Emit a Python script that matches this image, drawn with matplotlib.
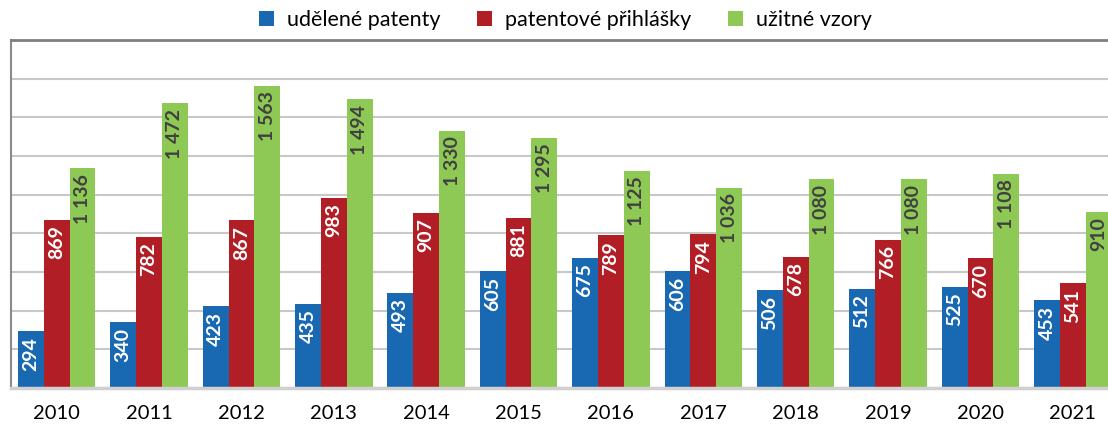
import matplotlib.pyplot as plt
import numpy as np

years = ['2010', '2011', '2012', '2013', '2014', '2015',
         '2016', '2017', '2018', '2019', '2020', '2021']
patenty = [294, 340, 423, 435, 493, 605, 675, 606, 506, 512, 525, 453]
prihlasky = [869, 782, 867, 983, 907, 881, 789, 794, 678, 766, 670, 541]
vzory = [1136, 1472, 1563, 1494, 1330, 1295, 1125, 1036, 1080, 1080, 1108, 910]
names = ['udělené patenty', 'patentové přihlášky', 'užitné vzory']

colors = ['#1868B2', '#B21E25', '#8FC955']
label_colors = ['white', 'white', '#404040']

plt.rcParams['font.family'] = ['Lato', 'DejaVu Sans']

W, H = 1108, 428
fig = plt.figure(figsize=(W / 100, H / 100), dpi=100)
# plot area runs a bit past the right edge of the picture
ax = fig.add_axes([10.5 / W, 40 / H, (1119 - 10.5) / W, (388 - 40) / H])

x = np.arange(len(years))
w = 0.28
series = [patenty, prihlasky, vzory]
for i, (vals, c, lc, nm) in enumerate(zip(series, colors, label_colors, names)):
    bars = ax.bar(x + (i - 1) * w, vals, width=w, color=c, label=nm,
                  edgecolor='none', zorder=2)
    for b, v in zip(bars, vals):
        txt = f'{v:,}'.replace(',', ' ')
        ax.annotate(txt, (b.get_x() + b.get_width() / 2, b.get_height()),
                    xytext=(0, -4), textcoords='offset points',
                    rotation=90, ha='center', va='top', fontsize=14,
                    fontweight='bold', color=lc, zorder=3)

ax.set_xlim(-0.5, len(years) - 0.5)
ax.set_ylim(0, 1800)
ax.set_yticks(np.arange(0, 1801, 200))
ax.yaxis.grid(True, color='#C8C8C8', linewidth=1.5, zorder=0)
ax.tick_params(axis='y', length=0, labelleft=False)
ax.set_xticks(x)
ax.set_xticklabels(years, fontsize=14.5)
ax.tick_params(axis='x', length=0, pad=12)

ax.spines['right'].set_visible(False)
ax.spines['left'].set_color('#8A8A8A')
ax.spines['left'].set_linewidth(1.5)
ax.spines['top'].set_color('#808080')
ax.spines['top'].set_linewidth(2)
ax.spines['bottom'].set_color('#D0D0D0')
ax.spines['bottom'].set_linewidth(2.5)

fig.legend(loc='center', bbox_to_anchor=(565 / W, 1 - 20 / H), ncol=3,
           frameon=False, fontsize=15.5, handlelength=0.7, handleheight=0.7,
           handletextpad=0.6, columnspacing=1.7)

fig.savefig('out.png', dpi=100)
